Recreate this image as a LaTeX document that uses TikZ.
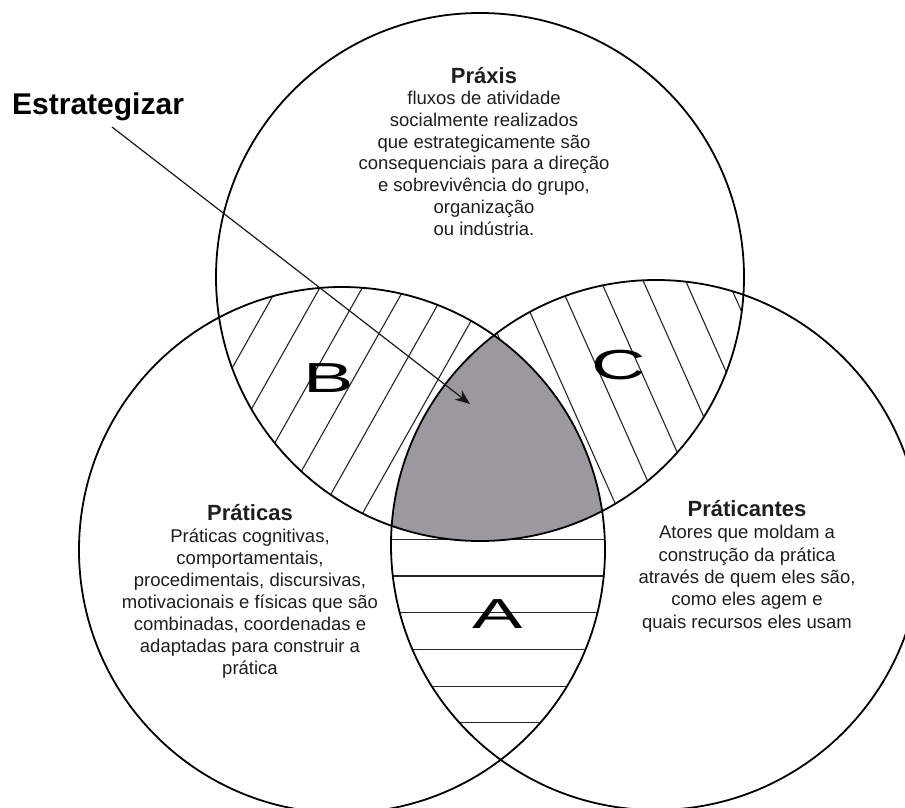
\documentclass[tikz,border=0pt]{standalone}
\usepackage{fontspec}
\setmainfont{Liberation Sans}
\usetikzlibrary{arrows.meta}
\definecolor{core}{RGB}{155,152,160}
\definecolor{ink}{RGB}{30,30,30}
\tikzset{
  ring/.style={draw=black,line width=1.8pt},
  hatch/.style={draw=black!85,line width=1.1pt},
  body/.style={align=center,inner sep=0pt,text=ink,font=\fontsize{18.5}{21.7}\selectfont},
  letter/.style={inner sep=0pt,anchor=base,font=\fontsize{42}{42}\selectfont},
  pointer/.style={draw=black!90,line width=1.2pt,-{Stealth[length=15pt,width=12pt]}}
}
\newcommand{\ttl}[1]{{\fontsize{22}{21.7}\selectfont\bfseries #1}}
\begin{document}
\begin{tikzpicture}[x=1pt,y=-1pt]
\useasboundingbox (0,0) rectangle (905,807);
\fill[white] (0,0) rectangle (905,807);
\clip (0,0) rectangle (905,807);
\coordinate (T) at (480,277);
\coordinate (L) at (342,550);
\coordinate (R) at (656,545);
% hatching B
\begin{scope}
  \clip (T) circle[radius=264pt];
  \clip (L) circle[radius=263pt];
  \foreach \k in {-3,...,14}{
    \pgfmathsetmacro\dd{383+37*\k}
    \draw[hatch] ({\dd*0.871-500*0.491},{\dd*0.491+500*0.871}) -- ({\dd*0.871+500*0.491},{\dd*0.491-500*0.871});
  }
\end{scope}
% hatching C
\begin{scope}
  \clip (T) circle[radius=264pt];
  \clip (R) circle[radius=265pt];
  \foreach \k in {-3,...,9}{
    \pgfmathsetmacro\dd{357+38.7*\k}
    \draw[hatch] ({\dd*0.914},{-\dd*0.407}) -- ({\dd*0.914+1100*0.407},{-\dd*0.407+1100*0.914});
  }
\end{scope}
% hatching A
\begin{scope}
  \clip (L) circle[radius=263pt];
  \clip (R) circle[radius=265pt];
  \foreach \k in {0,...,5}{
    \draw[hatch] (300,{539.3+36.7*\k}) -- (700,{539.3+36.7*\k});
  }
\end{scope}
% core
\begin{scope}
  \clip (T) circle[radius=264pt];
  \clip (L) circle[radius=263pt];
  \fill[core] (R) circle[radius=265pt];
\end{scope}
% circles
\draw[ring] (T) circle[radius=264pt];
\draw[ring] (L) circle[radius=263pt];
\draw[ring] (R) circle[radius=265pt];
% letters
\node[letter] (lb) at (329,392) {\scalebox{1.8}[1]{B}};
\node[letter] (lc) at (619,379) {\scalebox{1.8}[1]{C}};
\node[letter] (la) at (498,628) {\scalebox{1.8}[1]{A}};
% texts (base anchor = baseline of last line)
\node[body,anchor=base] (praxis) at (484,235) {\ttl{Práxis}\\
fluxos de atividade\\
socialmente realizados\\
que estrategicamente são\\
consequenciais para a direção\\
e sobrevivência do grupo,\\
organização\\
ou indústria.};
\node[body,anchor=base,font=\fontsize{18.5}{22}\selectfont] (praticas) at (250,674) {\ttl{Práticas}\\
Práticas cognitivas,\\
comportamentais,\\
procedimentais, discursivas,\\
motivacionais e físicas que são\\
combinadas, coordenadas e\\
adaptadas para construir a\\
prática};
\node[body,anchor=base,font=\fontsize{18.5}{22.3}\selectfont] (praticantes) at (747,628) {\ttl{Práticantes}\\
Atores que moldam a\\
construção da prática\\
através de quem eles são,\\
como eles agem e\\
quais recursos eles usam};
\node[anchor=base west,inner sep=0pt,font=\fontsize{30}{30}\selectfont\bfseries] (estr) at (12,114) {Estrategizar};
\coordinate (tail) at (112,127);
\coordinate (tip) at (470,404);
\draw[pointer] (tail) -- (tip);
\end{tikzpicture}
\end{document}
